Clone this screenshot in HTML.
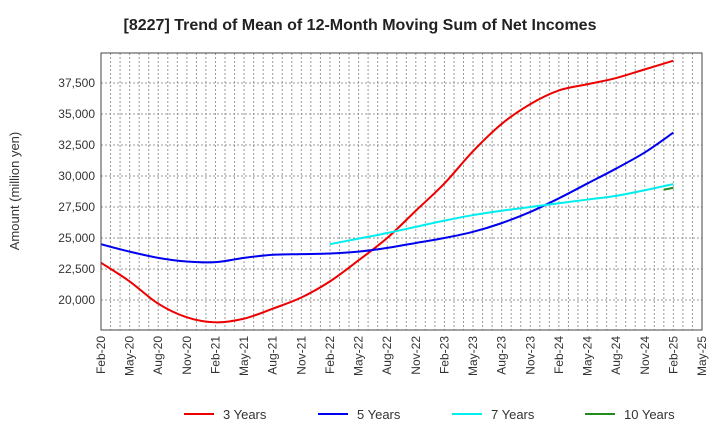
<!DOCTYPE html>
<html><head><meta charset="utf-8"><style>
body{margin:0;background:#fff;font-family:"Liberation Sans",sans-serif;}
svg text{font-family:"Liberation Sans",sans-serif;}
</style></head><body>
<svg id="chart" width="720" height="440" xmlns="http://www.w3.org/2000/svg">
<text x="360" y="30" text-anchor="middle" font-size="16" font-weight="bold" fill="#222">[8227]  Trend of Mean of 12-Month Moving Sum of Net Incomes</text>
<text transform="translate(19,191) rotate(-90)" text-anchor="middle" font-size="13" fill="#333">Amount (million yen)</text>
<g id="grid"></g><g id="series"></g><g id="axes"></g><g id="legend"></g>
</svg>
<script>
const xLabels=["Feb-20","May-20","Aug-20","Nov-20","Feb-21","May-21","Aug-21","Nov-21","Feb-22","May-22","Aug-22","Nov-22","Feb-23","May-23","Aug-23","Nov-23","Feb-24","May-24","Aug-24","Nov-24","Feb-25","May-25"];
const yTicks=[20000,22500,25000,27500,30000,32500,35000,37500];
const s3=[23000,21500,19700,18600,18200,18500,19300,20200,21500,23200,25000,27200,29400,32000,34200,35800,36900,37400,37900,38600,39300];
const s5=[24500,23900,23400,23100,23050,23400,23650,23700,23750,23900,24200,24600,25000,25500,26200,27100,28200,29400,30600,31900,33500];
const s7=[24500,24950,25400,25900,26400,26850,27200,27500,27800,28100,28400,28850,29350];
const s7start=8;
const s10=[28900,29050];
const s10startMonth=59;
const NS="http://www.w3.org/2000/svg";
const L=101,R=702,T=53,B=330;
const yMin=17580,yMax=39920;
const x=m=>L+(m)/63*(R-L);
const y=v=>B-(v-yMin)/(yMax-yMin)*(B-T);
function mk(t,a,p){const e=document.createElementNS(NS,t);for(const k in a)e.setAttribute(k,a[k]);p.appendChild(e);return e;}
const grid=document.getElementById('grid'),axes=document.getElementById('axes'),ser=document.getElementById('series'),leg=document.getElementById('legend');
for(let m=0;m<=63;m++){const l=mk('line',{x1:x(m),x2:x(m),y1:T,y2:B,stroke:'#999','stroke-width':1,'stroke-dasharray':'2,2'},grid);

}
yTicks.forEach(v=>{const l=mk('line',{x1:L,x2:R,y1:y(v),y2:y(v),stroke:'#999','stroke-width':1,'stroke-dasharray':'2,2'},grid);


const t=mk('text',{x:L-6,y:y(v)+4,'text-anchor':'end','font-size':12,fill:'#333'},axes);t.textContent=v.toLocaleString('en-US');

});
xLabels.forEach((s,i)=>{const xx=x(i*3);const t=mk('text',{transform:`translate(${xx+4},${B+6}) rotate(-90)`,'text-anchor':'end','font-size':12,fill:'#333'},axes);t.textContent=s;

});
const fr=mk('rect',{x:L,y:T,width:R-L,height:B-T,fill:'none',stroke:'#444','stroke-width':1},axes);


function path(pts){let d=`M${pts[0][0]},${pts[0][1]}`;for(let i=0;i<pts.length-1;i++){const p0=pts[Math.max(0,i-1)],p1=pts[i],p2=pts[i+1],p3=pts[Math.min(pts.length-1,i+2)];
d+=` C${p1[0]+(p2[0]-p0[0])/6},${p1[1]+(p2[1]-p0[1])/6} ${p2[0]-(p3[0]-p1[0])/6},${p2[1]-(p3[1]-p1[1])/6} ${p2[0]},${p2[1]}`;}return d;}
function draw(vals,startM,step,color,name){const pts=vals.map((v,i)=>[x(startM+i*step),y(v)]);const p=mk('path',{d:path(pts),fill:'none',stroke:color,'stroke-width':2},ser);

}
draw(s3,0,3,'#ee0000','series-3-years');
draw(s5,0,3,'#0000ee','series-5-years');
draw(s7,s7start*3,3,'#00eeee','series-7-years');
draw(s10,s10startMonth,1,'#228b22','series-10-years');
const legs=[["3 Years","#ee0000",184],["5 Years","#0000ee",318],["7 Years","#00eeee",452],["10 Years","#228b22",585]];
legs.forEach(([n,c,lx])=>{const g=mk('g',{},leg);


mk('line',{x1:lx,x2:lx+30,y1:414,y2:414,stroke:c,'stroke-width':2},g);
const t=mk('text',{x:lx+39,y:419,'font-size':13,fill:'#333'},g);t.textContent=n;});
</script>
</body></html>
